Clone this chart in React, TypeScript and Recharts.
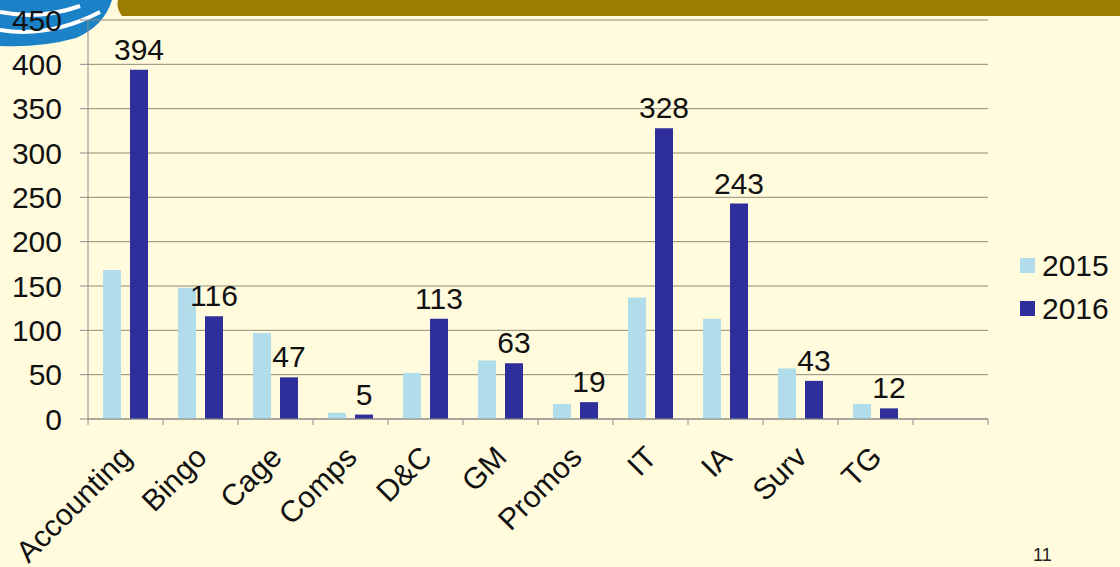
import React from "react"
import { BarChart, Bar, XAxis, YAxis, CartesianGrid, LabelList } from "recharts"

const categories = ["Accounting", "Bingo", "Cage", "Comps", "D&C", "GM", "Promos", "IT", "IA", "Surv", "TG", ""]
const values2015 = [168, 148, 97, 7, 52, 66, 17, 137, 113, 57, 17, null]
const values2016 = [394, 116, 47, 5, 113, 63, 19, 328, 243, 43, 12, null]
const yTicks = [0, 50, 100, 150, 200, 250, 300, 350, 400, 450]
const seriesNames = ["2015", "2016"]
const seriesColors = ["#b1dcea", "#2f2f9c"]

const data = categories.map((name, i) => ({ name, y2015: values2015[i], y2016: values2016[i] }))

const W = 1120
const H = 567
const MARGIN = { top: 20, right: 132, bottom: 0, left: 0 }
const X_AXIS_H = 148
const Y_AXIS_W = 88
const PLOT_W = W - MARGIN.right - Y_AXIS_W
const BAND = PLOT_W / categories.length
const FONT = "'Liberation Sans', Arial, sans-serif"

function CategoryTick(props: any) {
  const { x, y, payload, index } = props
  const left = x - BAND / 2
  const ax = x + 8
  const ay = y + 32
  return (
    <g>
      <line x1={left} y1={y - 8} x2={left} y2={y - 2} stroke="#8c8c8c" />
      {index === categories.length - 1 && (
        <line x1={left + BAND} y1={y - 8} x2={left + BAND} y2={y - 2} stroke="#8c8c8c" />
      )}
      <text
        x={ax}
        y={ay}
        textAnchor="end"
        transform={`rotate(-45, ${ax}, ${ay})`}
        fontSize={30}
        fontFamily={FONT}
        fill="#111"
      >
        {payload.value}
      </text>
    </g>
  )
}

function LegendBox() {
  return (
    <div style={{ position: "absolute", left: 1020, top: 244, fontFamily: FONT, fontSize: 30, color: "#111" }}>
      {seriesNames.map((label, i) => (
        <div key={label} style={{ display: "flex", alignItems: "center", height: 43 }}>
          <span style={{ width: 15, height: 15, background: seriesColors[i], marginRight: 7, display: "inline-block" }} />
          {label}
        </div>
      ))}
    </div>
  )
}

function Logo() {
  return (
    <svg width={W} height={H} style={{ position: "absolute", left: 0, top: 0 }}>
      <path d="M118 0 L1120 0 L1120 16 L122 16 Q116 8 118 0 Z" fill="#9b7e00" />
      <path d="M0 0 L112 0 Q104 26 76 38 Q40 48 0 46 Z" fill="#1b82c8" />
      <path d="M0 12 Q40 20 80 6" stroke="#fff" strokeWidth={4} fill="none" />
      <path d="M0 30 Q50 38 100 12" stroke="#fff" strokeWidth={4} fill="none" />
    </svg>
  )
}

export default function App() {
  return (
    <div style={{ position: "fixed", left: 0, top: 0, width: W, height: H, background: "#fffbdc", overflow: "hidden" }}>
      <Logo />
      <div style={{ position: "absolute", left: 0, top: 0 }}>
        <BarChart width={W} height={H} data={data} margin={MARGIN} barGap={9} barSize={18}>
          <CartesianGrid vertical={false} stroke="#8f8a7a" strokeWidth={1} />
          <XAxis
            dataKey="name"
            interval={0}
            tickLine={false}
            axisLine={{ stroke: "#8c8c8c" }}
            tick={<CategoryTick />}
            height={X_AXIS_H}
          />
          <YAxis
            width={Y_AXIS_W}
            domain={[0, 450]}
            ticks={yTicks}
            interval={0}
            tickSize={8}
            tickMargin={18}
            axisLine={{ stroke: "#8c8c8c" }}
            tickLine={{ stroke: "#8c8c8c" }}
            tick={{ fontSize: 30, fontFamily: FONT, fill: "#111" }}
          />
          <Bar dataKey="y2015" name="2015" fill={seriesColors[0]} isAnimationActive={false} />
          <Bar dataKey="y2016" name="2016" fill={seriesColors[1]} isAnimationActive={false}>
            <LabelList dataKey="y2016" position="top" offset={10} fontSize={30} fontFamily={FONT} fill="#111" />
          </Bar>
        </BarChart>
      </div>
      <LegendBox />
      <div style={{ position: "absolute", left: 1033, top: 545, fontFamily: FONT, fontSize: 18, color: "#222" }}>11</div>
    </div>
  )
}
